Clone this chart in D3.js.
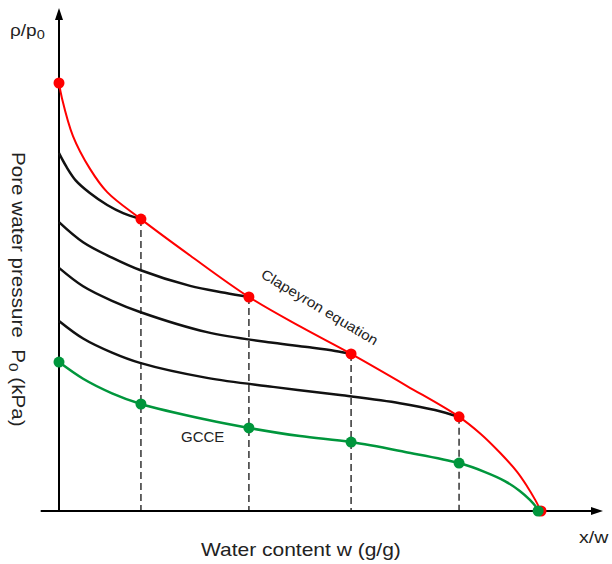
<!DOCTYPE html>
<html>
<head>
  <meta charset="UTF-8">
  <title>Clapeyron equation and GCCE</title>
  <script src="https://d3js.org/d3.v7.min.js"></script>
  <style>
    body { margin: 0; background: white; }
    svg { font-family: "Liberation Sans", Arial, sans-serif; }
  </style>
</head>
<body>
  <svg></svg>
  <script>
    // water content (normalised) where the curves meet the Clapeyron curve
    const markW = [0, 0.170, 0.394, 0.606, 0.830, 1.0];
    const clapeyronP = [1.0, 0.682, 0.500, 0.367, 0.220, 0];
    const gcceW = [0, 0.170, 0.394, 0.606, 0.830, 0.994];
    const gcceP = [0.348, 0.250, 0.194, 0.161, 0.112, 0];

    const clapeyronCurve = [
      [0, 1.0], [0.006, 0.965], [0.029, 0.876], [0.064, 0.800], [0.100, 0.745],
      [0.170, 0.682], [0.272, 0.597], [0.394, 0.500], [0.502, 0.430],
      [0.606, 0.367], [0.722, 0.292], [0.830, 0.220], [0.875, 0.180],
      [0.915, 0.136], [0.950, 0.092], [0.971, 0.058], [0.988, 0.026], [1.0, 0]
    ];
    const gcceCurve = [
      [0, 0.348], [0.050, 0.309], [0.110, 0.275], [0.170, 0.250],
      [0.307, 0.213], [0.394, 0.194], [0.500, 0.175], [0.606, 0.161],
      [0.718, 0.138], [0.830, 0.112], [0.884, 0.091], [0.925, 0.070],
      [0.956, 0.047], [0.977, 0.026], [0.990, 0.009], [0.994, 0]
    ];
    const blackCurves = [
      [[0, 0.836], [0.015, 0.805], [0.035, 0.772], [0.064, 0.743], [0.100, 0.715],
       [0.133, 0.696], [0.170, 0.682]],
      [[0, 0.675], [0.050, 0.628], [0.110, 0.592], [0.168, 0.563],
       [0.272, 0.526], [0.344, 0.510], [0.394, 0.500]],
      [[0, 0.568], [0.050, 0.525], [0.110, 0.491], [0.168, 0.465],
       [0.307, 0.418], [0.444, 0.393], [0.515, 0.383], [0.573, 0.374], [0.606, 0.367]],
      [[0, 0.444], [0.050, 0.403], [0.110, 0.370], [0.168, 0.346],
       [0.307, 0.311], [0.444, 0.290], [0.583, 0.271], [0.707, 0.252], [0.780, 0.236],
       [0.830, 0.220]]
    ];

    const red = '#ff0000';
    const green = '#00963c';

    const svg = d3.select('svg')
      .attr('width', 612)
      .attr('height', 564);

    const x = d3.scaleLinear().domain([0, 1]).range([59, 541]);
    const y = d3.scaleLinear().domain([0, 1]).range([511, 83]);

    const line = d3.line()
      .x(d => x(d[0]))
      .y(d => y(d[1]))
      .curve(d3.curveCatmullRom.alpha(0.5));

    // dashed drop lines
    svg.selectAll('.drop')
      .data(markW.slice(1, 5))
      .enter().append('line')
      .attr('x1', d => x(d))
      .attr('x2', d => x(d))
      .attr('y1', (d, i) => y(clapeyronP[i + 1]))
      .attr('y2', y(0))
      .attr('stroke', '#333')
      .attr('stroke-width', 1.5)
      .attr('stroke-dasharray', '7,4');

    // axes
    svg.append('line')
      .attr('x1', x(0)).attr('x2', x(0))
      .attr('y1', y(0)).attr('y2', 18)
      .attr('stroke', 'black').attr('stroke-width', 2);
    svg.append('path')
      .attr('d', `M${x(0)},8 L${x(0) - 4},20 L${x(0) + 4},20 Z`)
      .attr('fill', 'black');
    svg.append('line')
      .attr('x1', x(-0.038)).attr('x2', 594)
      .attr('y1', y(0)).attr('y2', y(0))
      .attr('stroke', 'black').attr('stroke-width', 2);
    svg.append('path')
      .attr('d', `M603,${y(0)} L591,${y(0) - 4} L591,${y(0) + 4} Z`)
      .attr('fill', 'black');

    // curves
    svg.selectAll('.black')
      .data(blackCurves)
      .enter().append('path')
      .attr('d', line)
      .attr('fill', 'none')
      .attr('stroke', '#111')
      .attr('stroke-width', 2.5);

    svg.append('path')
      .attr('d', line(gcceCurve))
      .attr('fill', 'none')
      .attr('stroke', green)
      .attr('stroke-width', 2.5);

    svg.append('path')
      .attr('d', line(clapeyronCurve))
      .attr('fill', 'none')
      .attr('stroke', red)
      .attr('stroke-width', 2);

    // markers
    svg.selectAll('.rdot')
      .data(markW)
      .enter().append('circle')
      .attr('cx', d => x(d))
      .attr('cy', (d, i) => y(clapeyronP[i]))
      .attr('r', 5.5)
      .attr('fill', red);

    svg.selectAll('.gdot')
      .data(gcceW)
      .enter().append('circle')
      .attr('cx', d => x(d))
      .attr('cy', (d, i) => y(gcceP[i]))
      .attr('r', 5.5)
      .attr('fill', green);

    // labels
    const yl = svg.append('text')
      .attr('transform', 'translate(10,36) scale(1.12,1)')
      .attr('font-size', '17px')
      .attr('fill', '#222');
    yl.append('tspan').text('ρ/p');
    yl.append('tspan').attr('font-size', '13px').attr('dy', 3).text('0');

    svg.append('text')
      .attr('transform', 'translate(579,543) scale(1.15,1)')
      .attr('font-size', '17px')
      .attr('fill', '#222')
      .text('x/w');

    svg.append('text')
      .attr('transform', 'translate(201,556) scale(1.2,1)')
      .attr('font-size', '17.5px')
      .attr('fill', '#222')
      .text('Water content w (g/g)');

    const vl = svg.append('text')
      .attr('transform', 'translate(12,152) rotate(90) scale(1.18,1)')
      .attr('font-size', '17.5px')
      .attr('fill', '#222')
      .attr('xml:space', 'preserve');
    vl.append('tspan').text('Pore water pressure  P');
    vl.append('tspan').attr('font-size', '13px').attr('dy', 3).text('0');
    vl.append('tspan').attr('dy', -3).text(' (kPa)');

    svg.append('text')
      .attr('transform', 'translate(260,277) rotate(31) scale(1.1,1)')
      .attr('font-size', '14px')
      .attr('fill', '#222')
      .text('Clapeyron equation');

    svg.append('text')
      .attr('x', 181).attr('y', 442)
      .attr('font-size', '15px')
      .attr('fill', '#222')
      .text('GCCE');
  </script>
</body>
</html>
